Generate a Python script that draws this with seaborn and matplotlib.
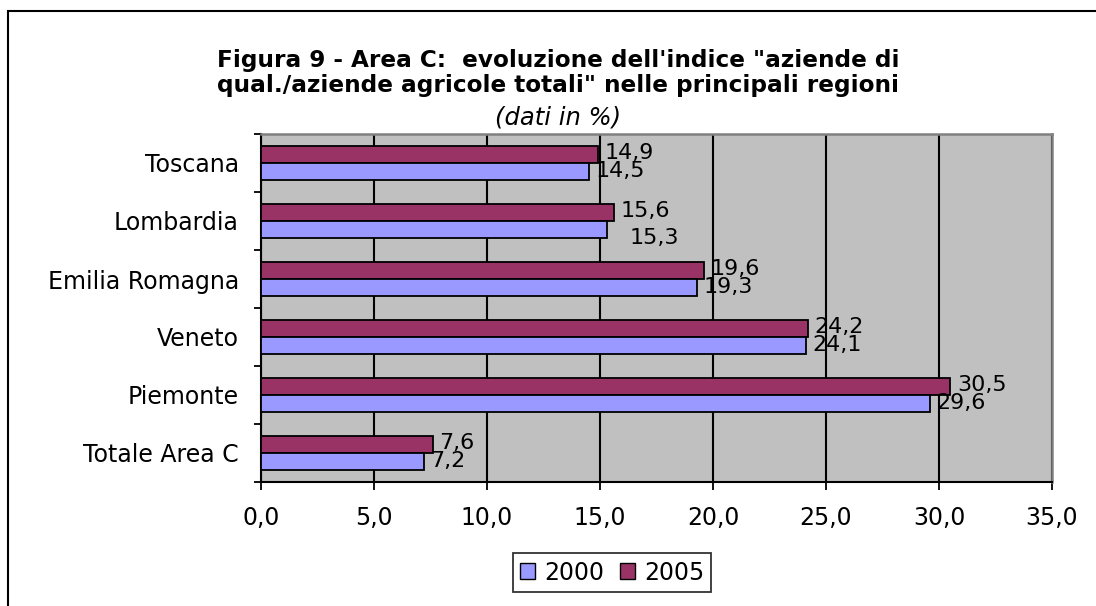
import matplotlib
matplotlib.use('Agg')
import matplotlib.pyplot as plt
import seaborn as sns
import pandas as pd
from matplotlib.patches import Patch, Rectangle

regioni = ['Toscana', 'Lombardia', 'Emilia Romagna', 'Veneto', 'Piemonte', 'Totale Area C']
val_2000 = [14.5, 15.3, 19.3, 24.1, 29.6, 7.2]
val_2005 = [14.9, 15.6, 19.6, 24.2, 30.5, 7.6]
anni = ['2000', '2005']
colori = {'2000': '#9999FF', '2005': '#993366'}
tick_x = [0, 5, 10, 15, 20, 25, 30, 35]

df = pd.DataFrame({
    'regione': regioni * 2,
    'anno': ['2000'] * len(regioni) + ['2005'] * len(regioni),
    'valore': val_2000 + val_2005,
})

sns.set_style('white')
plt.rcParams['font.family'] = ['DejaVu Sans']
plt.rcParams['text.color'] = 'black'
plt.rcParams['xtick.color'] = 'black'
plt.rcParams['ytick.color'] = 'black'

W, H = 1096, 606
fig = plt.figure(figsize=(W / 100, H / 100), dpi=100)
ax = fig.add_axes([261 / W, 1 - 482 / H, (1052 - 261) / W, (482 - 134) / H])

sns.barplot(data=df, y='regione', x='valore', hue='anno', hue_order=['2005', '2000'],
            order=regioni, palette=colori, saturation=1, orient='h', width=0.57,
            edgecolor='black', linewidth=1.3, legend=False, ax=ax, zorder=3)

ax.set_facecolor('#C0C0C0')
ax.set_xlim(0, 35)
ax.set_ylim(len(regioni) - 0.5, -0.5)
ax.set_xticks(tick_x)
ax.set_xticklabels([f'{v},0' for v in tick_x], fontsize=17)
ax.set_yticks(range(len(regioni)))
ax.set_yticklabels(regioni, fontsize=17)
ax.tick_params(axis='y', which='major', length=0, pad=16)
ax.tick_params(axis='x', direction='out', length=6, width=1.3, color='black', pad=11, bottom=True)
ax.set_yticks([i - 0.5 for i in range(len(regioni) + 1)], minor=True)
ax.tick_params(axis='y', which='minor', direction='out', length=5, width=1.3, color='black', left=True)
ax.grid(axis='x', color='black', linewidth=1.5, zorder=1)
ax.set_axisbelow(True)
ax.set_xlabel('')
ax.set_ylabel('')
for s in ['top', 'right']:
    ax.spines[s].set_color('#808080')
    ax.spines[s].set_linewidth(1.8)
for s in ['left', 'bottom']:
    ax.spines[s].set_color('black')
    ax.spines[s].set_linewidth(1.5)

# etichette valori (stile Excel, virgola decimale)
for i, r in enumerate(regioni):
    ax.text(val_2005[i] + 0.3, i - 0.17, f'{val_2005[i]:.1f}'.replace('.', ','),
            va='center', ha='left', fontsize=16, zorder=5)
    dx, dy = (1.0, 0.3) if r == 'Lombardia' else (0.3, 0.14)
    ax.text(val_2000[i] + dx, i + dy, f'{val_2000[i]:.1f}'.replace('.', ','),
            va='center', ha='left', fontsize=16, zorder=5)

fig.text(558 / W, 1 - 67 / H, 'Figura 9 - Area C:  evoluzione dell\'indice "aziende di',
         ha='center', va='baseline', fontsize=16.7, fontweight='bold')
fig.text(558 / W, 1 - 92 / H, 'qual./aziende agricole totali" nelle principali regioni',
         ha='center', va='baseline', fontsize=16.7, fontweight='bold')
fig.text(558 / W, 1 - 124 / H, '(dati in %)', ha='center', va='baseline',
         fontsize=17.5, style='italic')

handles = [Patch(facecolor=colori[a], edgecolor='black', label=a) for a in anni]
fig.legend(handles=handles, loc='center', bbox_to_anchor=(612 / W, 1 - 572.5 / H),
           ncol=2, fontsize=17, frameon=True, fancybox=False, edgecolor='black',
           handlelength=0.63, handleheight=0.63, handletextpad=0.38, columnspacing=0.68,
           borderpad=0.3, borderaxespad=0)
fig.legends[0].get_frame().set_linewidth(1.3)

# cornice del grafico (solo lati sinistro e superiore visibili)
fig.patches.append(Rectangle((8 / W, -0.1), 1.2, 1.1 - 11 / H,
                             transform=fig.transFigure, fill=False,
                             edgecolor='black', linewidth=1.5))

fig.savefig('out.png', dpi=100)
